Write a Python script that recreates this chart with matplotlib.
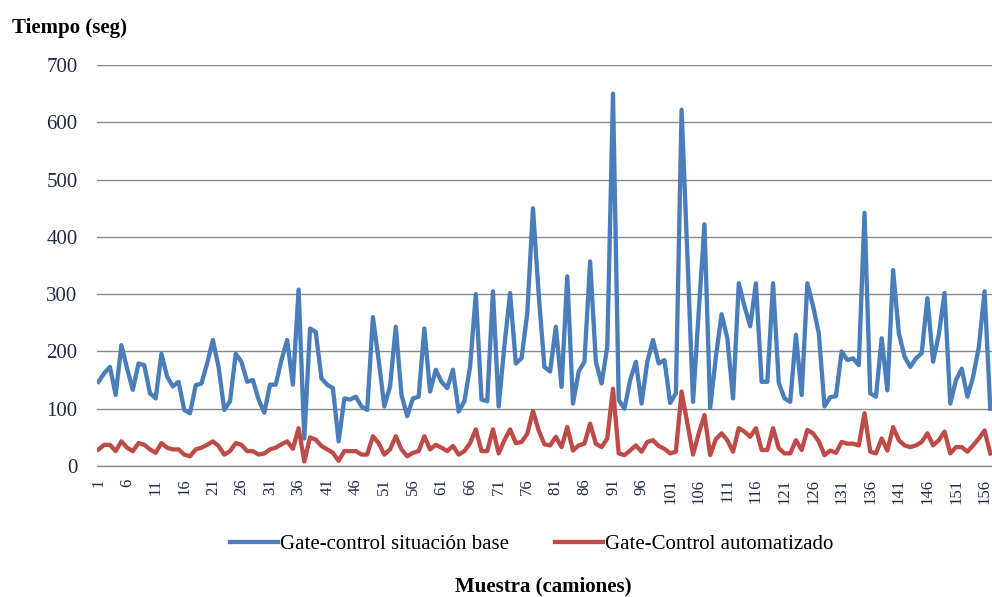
import numpy as np
import matplotlib
matplotlib.use('Agg')
import matplotlib.pyplot as plt

plt.rcParams['font.family'] = ['Liberation Serif', 'DejaVu Serif']

# Muestra 1..157 (camiones)
base = [147, 162, 173, 124, 211, 170, 133, 179, 176, 127,
        118, 196, 156, 139, 147, 98, 92, 141, 144, 179,
        220, 173, 98, 113, 196, 182, 147, 150, 116, 93,
        142, 142, 185, 220, 142, 308, 48, 240, 234, 153,
        142, 136, 43, 118, 116, 121, 104, 98, 260, 185,
        104, 139, 243, 124, 87, 118, 121, 240, 130, 168,
        147, 136, 168, 95, 113, 173, 300, 116, 113, 305,
        104, 210, 302, 179, 188, 266, 450, 300, 173, 165,
        243, 138, 331, 109, 165, 182, 357, 182, 144, 208,
        650, 115, 100, 150, 182, 109, 182, 220, 179, 185,
        110, 127, 622, 370, 112, 270, 422, 101, 191, 265,
        223, 118, 319, 279, 244, 319, 147, 147, 319, 145,
        118, 112, 229, 124, 319, 279, 232, 104, 120, 122,
        200, 185, 188, 176, 442, 127, 121, 223, 132, 342,
        232, 191, 173, 188, 197, 293, 182, 230, 302, 109,
        150, 170, 121, 156, 208, 305, 100]

automatizado = [29, 37, 37, 26, 43, 32, 26, 40, 37, 29,
                23, 40, 32, 29, 29, 20, 17, 29, 32, 37,
                43, 35, 20, 26, 40, 37, 26, 26, 20, 22,
                29, 32, 38, 43, 30, 66, 8, 50, 46, 35,
                29, 23, 9, 26, 26, 26, 20, 20, 52, 40,
                20, 29, 52, 29, 17, 23, 26, 52, 29, 37,
                32, 26, 35, 20, 26, 40, 64, 26, 26, 64,
                22, 45, 64, 40, 42, 56, 96, 62, 38, 36,
                51, 33, 68, 27, 36, 39, 74, 39, 33, 48,
                135, 22, 19, 27, 36, 25, 42, 45, 35, 30,
                22, 25, 130, 75, 20, 57, 89, 19, 47, 57,
                45, 25, 66, 60, 51, 66, 28, 28, 66, 31,
                22, 22, 45, 28, 63, 57, 43, 19, 27, 23,
                42, 39, 39, 36, 92, 25, 22, 48, 27, 68,
                45, 36, 33, 36, 42, 57, 36, 45, 60, 22,
                33, 33, 25, 36, 48, 62, 22]

muestra = np.arange(1, len(base) + 1)
xticks = list(range(1, len(base) + 1, 5))
yticks = [0, 100, 200, 300, 400, 500, 600, 700]

fig = plt.figure(figsize=(9.92, 5.97), dpi=100)
ax = fig.add_axes([0.0978, 0.2194, 0.9022, 0.6717])

ax.plot(muestra, base, color='#4A7EBB', lw=3.1, solid_joinstyle='round',
        label='Gate-control situación base')
ax.plot(muestra, automatizado, color='#BE4B48', lw=3.1, solid_joinstyle='round',
        label='Gate-Control automatizado')

ax.set_xlim(0.737, 157.3)
ax.set_ylim(0, 700)
ax.set_yticks(yticks)
ax.set_xticks(xticks)
ax.set_xticklabels([str(t) for t in xticks], rotation=90, fontsize=12)
ax.tick_params(axis='y', length=0, pad=14, labelsize=15, colors='#1f2a44')
ax.tick_params(axis='x', length=0, pad=9, colors='#1f2a44')

ax.grid(axis='y', color='#8a8a8a', lw=1.0)
ax.set_axisbelow(True)
for side in ['left', 'right', 'top']:
    ax.spines[side].set_visible(False)
ax.spines['bottom'].set_color('#8a8a8a')
ax.spines['bottom'].set_linewidth(1.0)

fig.text(0.012, 1 - 28 / 597, 'Tiempo (seg)', fontsize=15, fontweight='bold',
         va='center', ha='left')
fig.text(0.548, 1 - 586 / 597, 'Muestra (camiones)', fontsize=15, fontweight='bold',
         va='center', ha='center')

fig.legend(loc='center', bbox_to_anchor=(0.536, 1 - 544 / 597), ncol=2,
           frameon=False, fontsize=15, handlelength=2.3, handletextpad=0.1,
           columnspacing=2.2)

fig.savefig('out.png', dpi=100)
